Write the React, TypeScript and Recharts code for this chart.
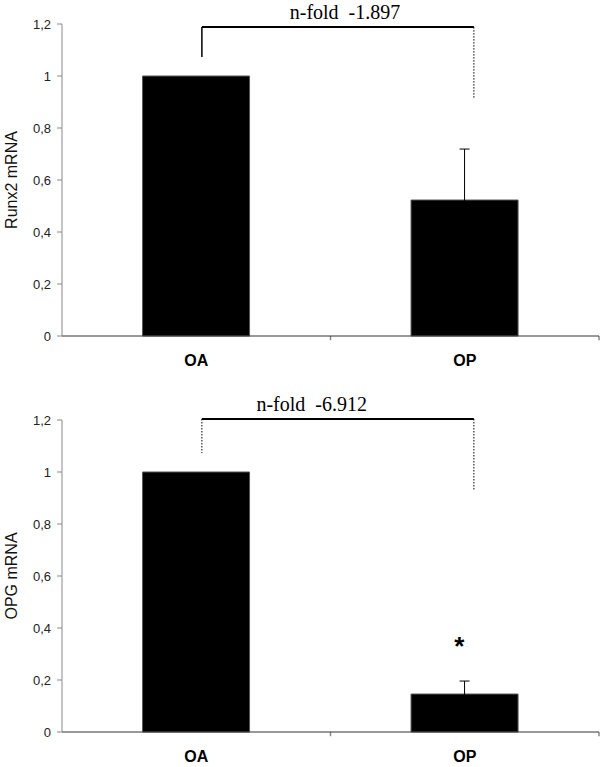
import React from 'react';
import { BarChart, Bar, XAxis, YAxis, ErrorBar, ReferenceLine, ReferenceDot } from 'recharts';

const categories = ['OA', 'OP'];
const positions = [0.5, 1.5];
const boundaryTicks = [1, 2];
const runx2Values = [1, 0.523];
const runx2Errors = [null, 0.196];
const opgValues = [1, 0.146];
const opgErrors = [null, 0.05];
const yTicks = [0, 0.2, 0.4, 0.6, 0.8, 1, 1.2];

const runx2Data = categories.map((c, i) => ({ name: c, pos: positions[i], value: runx2Values[i], err: runx2Errors[i] }));
const opgData = categories.map((c, i) => ({ name: c, pos: positions[i], value: opgValues[i], err: opgErrors[i] }));

// bracket annotations (x on a hidden numeric axis 0..2 matching the category bands)
const runx2Bracket = { x1: 0.521, x2: 1.534, top: 1.188, leftBottom: 1.073, rightBottom: 0.912, leftDashed: false, rightDashed: true, text: 'n-fold\u00a0 -1.897', textX: 1.054 };
const opgBracket = { x1: 0.521, x2: 1.534, top: 1.204, leftBottom: 1.073, rightBottom: 0.927, leftDashed: true, rightDashed: true, text: 'n-fold\u00a0 -6.912', textX: 0.93 };

const SANS = '"Liberation Sans", Arial, sans-serif';
const SERIF = '"Liberation Serif", "Times New Roman", serif';

const YLabel = (props: any) => {
  const vb = props.viewBox || {};
  const cx = vb.x + 15;
  const cy = vb.y + vb.height / 2;
  return (
    <text x={cx} y={cy} transform={`rotate(-90 ${cx} ${cy})`} textAnchor="middle" fontFamily={SANS} fontSize={16} fill="#111">
      {props.value}
    </text>
  );
};

const CatTick = (props: any) => {
  const { x, y, payload } = props;
  return (
    <text x={x} y={y + 18} textAnchor="middle" fontFamily={SANS} fontSize={16} fontWeight="bold" fill="#000" dominantBaseline="middle">
      {payload.value}
    </text>
  );
};

const NoTick = () => <g />;

function Panel({ data, label, bracket, star, height, top }: any) {
  return (
    <BarChart width={600} height={height} data={data} margin={{ top, right: 1, bottom: 5, left: 2 }} barCategoryGap="30%" style={{ overflow: 'visible' }}>
      <XAxis dataKey="name" xAxisId="cat" tick={<CatTick />} tickLine={false} axisLine={{ stroke: '#333', strokeWidth: 1 }} height={30} />
      <XAxis xAxisId="num" dataKey="pos" type="number" domain={[0, 2]} allowDataOverflow={true} ticks={[0, 1, 2]} tick={<NoTick />} tickLine={false} axisLine={false} height={0} />
      <YAxis
        domain={[0, 1.2]}
        ticks={yTicks}
        tickFormatter={(v: number) => String(v).replace('.', ',')}
        tick={{ fontFamily: SANS, fontSize: 13, fill: '#222' }}
        tickSize={5}
        tickMargin={6}
        axisLine={{ stroke: '#888' }}
        tickLine={{ stroke: '#888' }}
        width={60}
        label={<YLabel value={label} />}
      />
      <Bar dataKey="value" xAxisId="cat" fill="#000" stroke="#555" strokeWidth={1} isAnimationActive={false}>
        <ErrorBar dataKey="err" width={5} stroke="#000" strokeWidth={1} direction="y" />
      </Bar>
      {boundaryTicks.map((t) => (
        <ReferenceLine key={t} xAxisId="num" ifOverflow="visible" stroke="#888" strokeWidth={1.5}
          segment={[{ x: t, y: 0 }, { x: t, y: -0.016 }]} />
      ))}
      <ReferenceLine xAxisId="num" ifOverflow="visible" stroke="#000" strokeWidth={2}
        segment={[{ x: bracket.x1, y: bracket.top }, { x: bracket.x2, y: bracket.top }]} />
      <ReferenceLine xAxisId="num" ifOverflow="visible" stroke="#000" strokeWidth={bracket.leftDashed ? 1 : 1.5}
        strokeDasharray={bracket.leftDashed ? '1.5 1.5' : undefined}
        segment={[{ x: bracket.x1, y: bracket.top }, { x: bracket.x1, y: bracket.leftBottom }]} />
      <ReferenceLine xAxisId="num" ifOverflow="visible" stroke="#000" strokeWidth={bracket.rightDashed ? 1 : 1.5}
        strokeDasharray={bracket.rightDashed ? '1.5 1.5' : undefined}
        segment={[{ x: bracket.x2, y: bracket.top }, { x: bracket.x2, y: bracket.rightBottom }]} />
      <ReferenceDot xAxisId="num" x={bracket.textX} y={bracket.top} r={0} ifOverflow="visible" fill="none" stroke="none"
        label={{ value: bracket.text, position: 'top', offset: 8, fontFamily: SERIF, fontSize: 20, fill: '#000' }} />
      {star ? (
        <ReferenceDot xAxisId="num" x={star.x} y={star.y} r={0} ifOverflow="visible" fill="none" stroke="none"
          label={{ value: '*', position: 'center', fontFamily: SANS, fontSize: 26, fontWeight: 'bold', fill: '#000' }} />
      ) : null}
    </BarChart>
  );
}

export default function App() {
  return (
    <div style={{ position: 'absolute', left: 0, top: 0, width: 600, height: 767, background: '#fff' }}>
      <div style={{ position: 'absolute', left: 0, top: 0 }}>
        <Panel data={runx2Data} label="Runx2 mRNA" bracket={runx2Bracket} height={371} top={24} />
      </div>
      <div style={{ position: 'absolute', left: 0, top: 376 }}>
        <Panel data={opgData} label="OPG mRNA" bracket={opgBracket} star={{ x: 1.48, y: 0.33 }} height={391} top={44} />
      </div>
    </div>
  );
}
